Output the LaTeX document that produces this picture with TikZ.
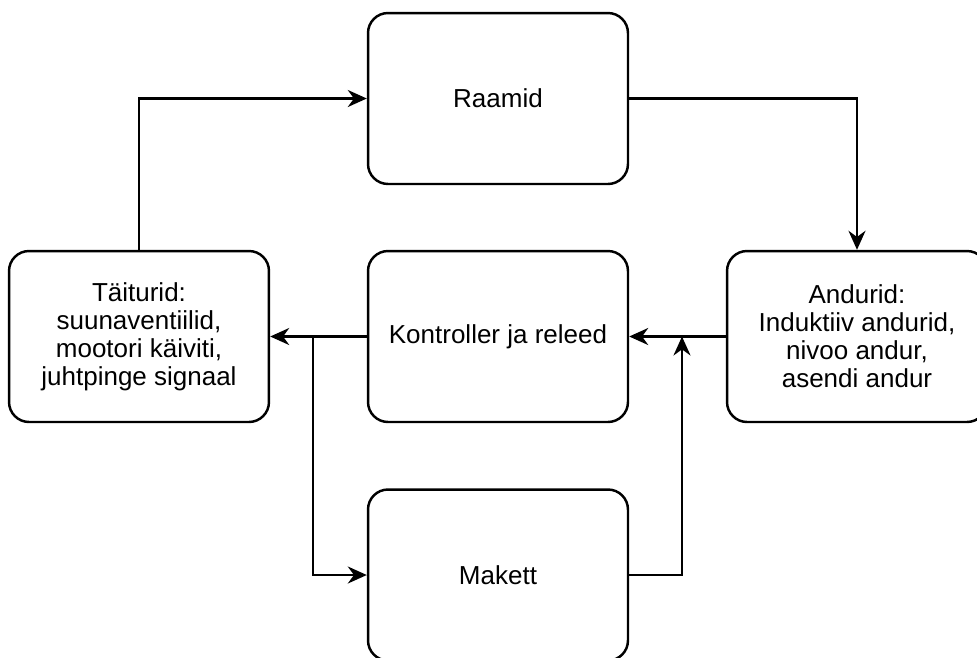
\documentclass[tikz,border=0pt]{standalone}
\usepackage{fontspec}
\setmainfont{Liberation Sans}
\usetikzlibrary{arrows.meta}

\tikzstyle{block} = [rectangle, rounded corners=0.4cm, minimum width=5.2cm, minimum height=3.42cm, text centered, align=center, draw=black, line width=1.4pt, font=\fontsize{14.8}{16}\selectfont]
\tikzstyle{arrow} = [line width=1.4pt, -{Stealth[length=0.38cm, width=0.34cm]}]

\begin{document}
\begin{tikzpicture}[x=0.02cm, y=-0.02cm]
		\useasboundingbox (0,0) rectangle (977,657);
		\node (raamid) [block] at (498,98.5) {Raamid};
		\node (kontroller) [block] at (498,336.5) {Kontroller ja releed};
		\node (taiturid) [block] at (139,336.5) {Täiturid:\\suunaventiilid,\\mootori käiviti,\\juhtpinge signaal};
		\node (andurid) [block] at (857,336.5) {Andurid:\\Induktiiv andurid,\\nivoo andur,\\asendi andur};
		\node (makett) [block] at (498,575) {Makett};

		\coordinate (split) at (313,336.5);
		\coordinate (join) at (682,336.5);

		\draw [arrow] (taiturid.north) |- (raamid.west);
		\draw [arrow] (raamid.east) -| (andurid.north);
		\draw [arrow] (andurid.west) -- (kontroller.east);
		\draw [arrow] (kontroller.west) -- (taiturid.east);
		\draw [arrow] (split) |- (makett.west);
		\draw [arrow] (makett.east) -| (join);
	\end{tikzpicture}
\end{document}
